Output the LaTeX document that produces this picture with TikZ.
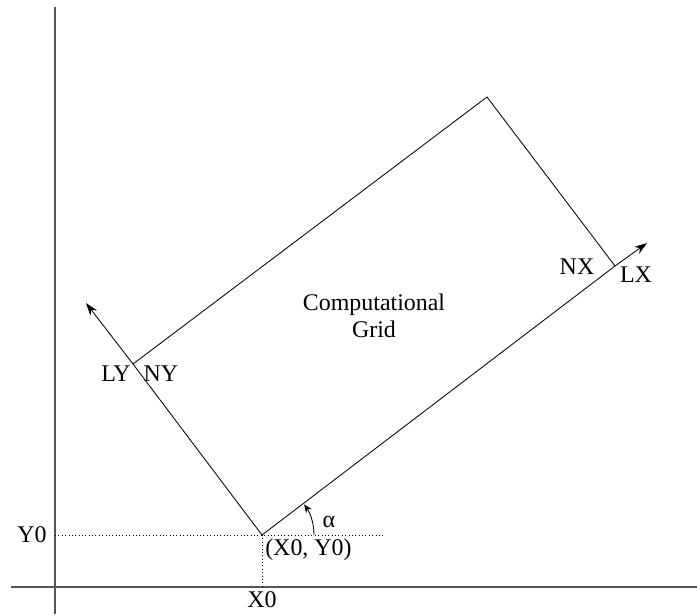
\documentclass[tikz,border=0pt]{standalone}
\usepackage{fontspec}
\setmainfont{Liberation Serif}
\usepackage{tikz}
\usetikzlibrary{arrows.meta}
\definecolor{caxe}{RGB}{85,85,85}

\begin{document}
\begin{tikzpicture}[x=0.025cm, y=0.025cm, >={Stealth[length=9pt,width=6pt]},
  lbl/.style={font=\fontsize{17}{19}\selectfont, inner sep=0pt}]
\useasboundingbox (0,0) rectangle (697,614);
% axes
\draw[caxe,line width=0.8pt] (55,0) -- (55,607);
\draw[caxe,line width=0.8pt] (11,27) -- (697,27);
% grid corners
\coordinate (A) at (262,79);
\coordinate (B) at (615,348);
\coordinate (T) at (487,517);
\coordinate (L) at (133,250);
\coordinate (LXend) at (647,371);
\coordinate (LYend) at (86,311);
\coordinate (Yend) at (384,79);
\coordinate (Xaxe) at (262,27);
\coordinate (Yaxe) at (55,79);
\draw[dotted,thin] (Yaxe) -- (Yend);
\draw[dotted,thin] (A) -- (Xaxe);
\draw[line width=0.6pt] (A) -- (B) -- (T) -- (L) -- cycle;
\draw[->,line width=0.6pt] (B) -- (LXend);
\draw[->,line width=0.6pt] (L) -- (LYend);
\draw[->,line width=0.6pt,>={Stealth[length=6pt,width=5pt]}] ([shift={(1.3cm,0)}]A) arc[start angle=0, end angle=36, radius=1.3cm];
% labels
\node[lbl] (alpha) at (329,92) {α};
\node[lbl] (y0) at (32,79) {Y0};
\node[lbl] (x0) at (262,14) {X0};
\node[lbl,anchor=west] (orig) at (265,64) {(X0, Y0)};
\node[lbl,align=center] (grid) at (374,298) {Computational\\Grid};
\node[lbl] (nx) at (577,347) {NX};
\node[lbl] (lx) at (636,339) {LX};
\node[lbl] (ly) at (116,240) {LY};
\node[lbl] (ny) at (161,240) {NY};
\end{tikzpicture}
\end{document}
